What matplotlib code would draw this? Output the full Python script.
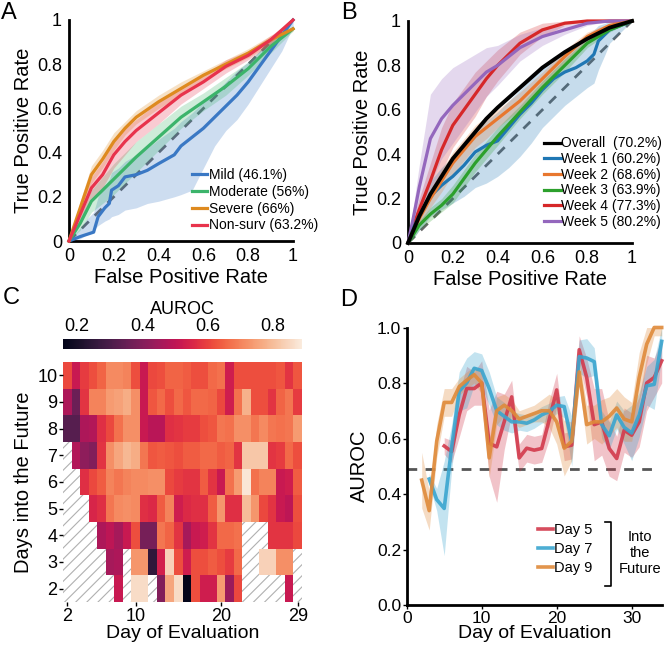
import numpy as np
import matplotlib
matplotlib.use('Agg')
from matplotlib import pyplot as plt
from matplotlib.patches import Rectangle
import seaborn as sns

plt.rcParams['font.family'] = ['Liberation Sans', 'DejaVu Sans']
plt.rcParams['hatch.linewidth'] = 0.8
plt.rcParams['hatch.color'] = '#b0b0b0'

# ---------------- panel A: ROC by severity ----------------
fpr_a = [0, 0.05, 0.1, 0.15, 0.2, 0.25, 0.3, 0.4, 0.5, 0.6, 0.7, 0.8, 0.9, 1.0]
moderate_tpr = [0, 0.08, 0.18, 0.23, 0.28, 0.33, 0.38, 0.47, 0.56, 0.63, 0.70, 0.78, 0.88, 0.96]
moderate_err = [0, 0.03, 0.05, 0.06, 0.07, 0.07, 0.07, 0.06, 0.05, 0.04, 0.04, 0.03, 0.03, 0.01]
severe_tpr = [0, 0.15, 0.30, 0.37, 0.45, 0.51, 0.56, 0.63, 0.69, 0.75, 0.80, 0.85, 0.91, 0.96]
severe_err = [0, 0.03, 0.04, 0.04, 0.04, 0.03, 0.03, 0.03, 0.03, 0.02, 0.02, 0.02, 0.02, 0.01]
nonsurv_tpr = [0, 0.12, 0.24, 0.30, 0.39, 0.45, 0.50, 0.58, 0.66, 0.72, 0.79, 0.84, 0.91, 1.0]
nonsurv_err = [0, 0.03, 0.05, 0.06, 0.06, 0.06, 0.05, 0.05, 0.04, 0.03, 0.03, 0.02, 0.02, 0]

mild_fpr = [0, 0.05, 0.08, 0.11, 0.13, 0.16, 0.18, 0.19, 0.22, 0.25, 0.3, 0.35, 0.4, 0.47,
            0.5, 0.55, 0.6, 0.65, 0.7, 0.75, 0.8, 0.85, 0.9, 0.95, 1.0]
mild_tpr = [0, 0.02, 0.03, 0.04, 0.11, 0.15, 0.17, 0.23, 0.25, 0.29, 0.30, 0.32, 0.35, 0.39,
            0.43, 0.47, 0.51, 0.56, 0.61, 0.66, 0.72, 0.79, 0.86, 0.93, 1.0]
mild_lo = [0, 0.01, 0.03, 0.05, 0.07, 0.09, 0.10, 0.11, 0.12, 0.14, 0.15, 0.17, 0.18, 0.20,
           0.21, 0.23, 0.33, 0.43, 0.50, 0.55, 0.62, 0.70, 0.78, 0.86, 0.97]
mild_hi = [0, 0.06, 0.10, 0.13, 0.20, 0.25, 0.28, 0.31, 0.33, 0.36, 0.39, 0.42, 0.46, 0.51,
           0.54, 0.58, 0.63, 0.67, 0.72, 0.77, 0.81, 0.86, 0.92, 0.96, 1.0]

# ---------------- panel B: ROC by week ----------------
fpr_b = [0, 0.025, 0.05, 0.1, 0.15, 0.2, 0.25, 0.3, 0.35, 0.4, 0.5, 0.6, 0.7, 0.8, 0.9, 1.0]
overall_tpr = [0, 0.06, 0.12, 0.22, 0.30, 0.38, 0.44, 0.50, 0.56, 0.61, 0.70, 0.79, 0.86, 0.92, 0.97, 1.0]
week2_tpr = [0, 0.06, 0.11, 0.20, 0.28, 0.36, 0.42, 0.48, 0.52, 0.56, 0.64, 0.74, 0.84, 0.93, 0.98, 1.0]
week2_err = [0, 0.02, 0.03, 0.04, 0.05, 0.05, 0.05, 0.05, 0.05, 0.04, 0.04, 0.03, 0.03, 0.02, 0.01, 0]
week3_tpr = [0, 0.04, 0.08, 0.13, 0.17, 0.22, 0.29, 0.36, 0.42, 0.48, 0.59, 0.70, 0.80, 0.90, 0.96, 1.0]
week3_err = [0, 0.02, 0.02, 0.03, 0.03, 0.04, 0.04, 0.04, 0.04, 0.04, 0.03, 0.03, 0.03, 0.02, 0.01, 0]
week4_tpr = [0, 0.08, 0.15, 0.28, 0.42, 0.53, 0.60, 0.67, 0.74, 0.80, 0.90, 0.96, 0.99, 1.0, 1.0, 1.0]
week4_err = [0, 0.03, 0.05, 0.08, 0.10, 0.10, 0.10, 0.10, 0.08, 0.07, 0.05, 0.03, 0.01, 0, 0, 0]
week5_tpr = [0, 0.12, 0.25, 0.47, 0.56, 0.62, 0.67, 0.72, 0.77, 0.80, 0.88, 0.93, 0.96, 0.99, 1.0, 1.0]
week5_err = [0, 0.05, 0.10, 0.20, 0.18, 0.17, 0.15, 0.13, 0.11, 0.09, 0.06, 0.04, 0.02, 0.01, 0, 0]

week1_fpr = [0, 0.03, 0.06, 0.1, 0.15, 0.2, 0.25, 0.3, 0.35, 0.4, 0.45, 0.5, 0.55, 0.6, 0.65,
             0.7, 0.75, 0.8, 0.83, 0.85, 0.88, 0.9, 0.95, 1.0]
week1_tpr = [0, 0.08, 0.14, 0.21, 0.26, 0.30, 0.35, 0.41, 0.44, 0.46, 0.52, 0.58, 0.63, 0.69, 0.74,
             0.77, 0.79, 0.82, 0.85, 0.91, 0.94, 0.96, 0.98, 1.0]
week1_lo = [0, 0.03, 0.07, 0.12, 0.15, 0.18, 0.21, 0.25, 0.27, 0.30, 0.34, 0.39, 0.45, 0.52, 0.57,
            0.62, 0.66, 0.70, 0.72, 0.78, 0.85, 0.90, 0.95, 1.0]
week1_hi = [0, 0.12, 0.20, 0.28, 0.34, 0.39, 0.45, 0.50, 0.55, 0.59, 0.64, 0.69, 0.74, 0.80, 0.84,
            0.86, 0.90, 0.94, 0.96, 0.98, 0.99, 1.0, 1.0, 1.0]

# ---------------- panel C: AUROC heatmap ----------------
nan = np.nan
eval_days = list(range(2, 30))
future_days = list(range(2, 11))
# rows: days into the future 2 .. 10, columns: day of evaluation 2 .. 29
auroc_grid = [
    [nan, nan, nan, nan, nan, nan, 0.52, nan, 0.86, 0.86, nan, 0.40, 0.76, 0.86, 0.16, 0.62, 0.53, 0.53, 0.74, 0.44, 0.61, nan, nan, nan, nan, nan, 0.52, nan],
    [nan, nan, nan, nan, nan, 0.46, 0.47, nan, 0.73, 0.73, 0.25, 0.54, 0.84, 0.62, 0.53, 0.62, 0.62, 0.64, 0.62, 0.59, 0.66, nan, nan, 0.84, 0.84, 0.72, 0.72, nan],
    [nan, nan, nan, nan, 0.47, 0.50, 0.46, 0.52, 0.62, 0.38, 0.38, 0.68, 0.65, 0.58, 0.46, 0.52, 0.53, 0.58, 0.66, 0.66, 0.67, nan, nan, nan, 0.58, 0.58, 0.58, 0.61],
    [nan, nan, nan, 0.55, 0.57, 0.68, 0.71, 0.72, 0.71, 0.57, 0.56, 0.64, 0.70, 0.53, 0.56, 0.57, 0.57, 0.64, 0.73, 0.57, 0.57, 0.80, 0.73, 0.61, 0.58, 0.52, 0.50, 0.62],
    [nan, nan, 0.57, 0.61, 0.64, 0.70, 0.68, 0.70, 0.71, 0.71, 0.72, 0.72, 0.61, 0.59, 0.58, 0.58, 0.64, 0.58, 0.52, 0.67, 0.74, 0.88, 0.67, 0.70, 0.70, 0.52, 0.53, 0.64],
    [nan, 0.48, 0.42, 0.40, 0.58, 0.72, 0.76, 0.79, 0.77, 0.68, 0.63, 0.64, 0.63, 0.62, 0.64, 0.64, 0.66, 0.66, 0.64, 0.65, 0.58, 0.82, 0.82, 0.82, 0.58, 0.59, 0.66, 0.62],
    [0.32, 0.32, 0.47, 0.48, 0.57, 0.61, 0.67, 0.72, 0.72, 0.52, 0.49, 0.49, 0.57, 0.58, 0.59, 0.59, 0.62, 0.63, 0.68, 0.67, 0.72, 0.72, 0.68, 0.71, 0.68, 0.67, 0.68, 0.74],
    [0.47, 0.36, 0.58, 0.70, 0.70, 0.74, 0.75, 0.77, 0.72, 0.52, 0.63, 0.66, 0.62, 0.66, 0.63, 0.66, 0.66, 0.65, 0.61, 0.53, 0.67, 0.78, 0.62, 0.62, 0.58, 0.65, 0.68, 0.59],
    [0.61, 0.52, 0.59, 0.62, 0.65, 0.71, 0.71, 0.70, 0.62, 0.52, 0.61, 0.62, 0.65, 0.65, 0.64, 0.62, 0.62, 0.66, 0.67, 0.53, 0.62, 0.62, 0.62, 0.62, 0.62, 0.63, 0.58, 0.63],
]

# ---------------- panel D: AUROC over time ----------------
day5_x = list(range(5, 35))
day5_auroc = [0.573, 0.553, 0.685, 0.78, 0.78, 0.80, 0.583, 0.57, 0.66, 0.75, 0.53, 0.565, 0.558,
              0.564, 0.667, 0.775, 0.57, 0.576, 0.92, 0.82, 0.65, 0.66, 0.564, 0.528, 0.63, 0.612,
              0.66, 0.80, 0.82, 0.88]
day5_err = [0.03, 0.04, 0.08, 0.08, 0.06, 0.08, 0.12, 0.20, 0.10, 0.06, 0.05, 0.05, 0.05, 0.05,
            0.07, 0.06, 0.05, 0.05, 0.05, 0.07, 0.13, 0.12, 0.10, 0.08, 0.08, 0.08, 0.09, 0.10,
            0.07, 0.08]
day7_x = list(range(3, 35))
day7_auroc = [0.454, 0.38, 0.348, 0.57, 0.77, 0.80, 0.853, 0.845, 0.78, 0.70, 0.68, 0.66, 0.66,
              0.655, 0.667, 0.685, 0.697, 0.72, 0.715, 0.59, 0.895, 0.89, 0.877, 0.65, 0.61,
              0.685, 0.64, 0.62, 0.685, 0.79, 0.795, 0.95]
day7_err = [0.02, 0.04, 0.17, 0.08, 0.07, 0.09, 0.06, 0.06, 0.06, 0.05, 0.05, 0.04, 0.03, 0.03,
            0.03, 0.03, 0.03, 0.03, 0.04, 0.09, 0.06, 0.07, 0.05, 0.05, 0.05, 0.05, 0.06, 0.10,
            0.08, 0.07, 0.09, 0.06]
day9_x = list(range(2, 35))
day9_auroc = [0.45, 0.34, 0.59, 0.73, 0.73, 0.787, 0.81, 0.83, 0.80, 0.53, 0.70, 0.72, 0.70, 0.67,
              0.68, 0.69, 0.70, 0.70, 0.66, 0.565, 0.59, 0.84, 0.65, 0.66, 0.66, 0.68, 0.71, 0.67,
              0.66, 0.82, 0.94, 1.0, 1.0]
day9_err = [0.10, 0.07, 0.06, 0.05, 0.05, 0.03, 0.03, 0.03, 0.04, 0.07, 0.05, 0.04, 0.04, 0.03,
            0.03, 0.03, 0.04, 0.06, 0.08, 0.10, 0.07, 0.05, 0.07, 0.06, 0.08, 0.07, 0.07, 0.08,
            0.07, 0.09, 0.07, 0.03, 0.03]
chance_level = 0.49

W, H = 667, 647
fig = plt.figure(figsize=(W / 100, H / 100), dpi=100)


def px_axes(left, top, right, bottom):
    return fig.add_axes([left / W, 1 - bottom / H, (right - left) / W, (bottom - top) / H])


def style_roc(ax):
    for s in ['top', 'right']:
        ax.spines[s].set_visible(False)
    for s in ['left', 'bottom']:
        ax.spines[s].set_linewidth(2)
    ax.set_xlim(0, 1)
    ax.set_ylim(0, 1)
    ticks = [0, 0.2, 0.4, 0.6, 0.8, 1]
    labels = ['0', '0.2', '0.4', '0.6', '0.8', '1']
    ax.set_xticks(ticks, labels)
    ax.set_yticks(ticks, labels)
    ax.tick_params(length=0, labelsize=13, pad=5)
    ax.set_xlabel('False Positive Rate', fontsize=14.5, labelpad=2)
    ax.set_ylabel('True Positive Rate', fontsize=14.5, labelpad=3)
    ax.plot([0, 1], [0, 1], color='#666666', lw=2, dashes=(3.5, 3), zorder=1)


def roc_line(ax, x, y, lo, hi, color, label):
    ax.fill_between(x, lo, hi, color=color, alpha=0.25, lw=0, zorder=2)
    ax.plot(x, y, color=color, lw=2.3, label=label, zorder=3, clip_on=False)


def band(y, err):
    y = np.array(y)
    err = np.array(err)
    return np.clip(y - err, 0, 1), np.clip(y + err, 0, 1)


# ---- A ----
ax_a = px_axes(69, 20, 293, 241)
style_roc(ax_a)
roc_line(ax_a, mild_fpr, mild_tpr, mild_lo, mild_hi, '#3a78c4', 'Mild (46.1%)')
roc_line(ax_a, fpr_a, moderate_tpr, *band(moderate_tpr, moderate_err), '#3cb46b', 'Moderate (56%)')
roc_line(ax_a, fpr_a, severe_tpr, *band(severe_tpr, severe_err), '#de8a1f', 'Severe (66%)')
roc_line(ax_a, fpr_a, nonsurv_tpr, *band(nonsurv_tpr, nonsurv_err), '#e8334c', 'Non-surv (63.2%)')
ax_a.legend(loc='upper left', bbox_to_anchor=(0.55, 0.33), frameon=False, fontsize=10,
            handlelength=1.1, handletextpad=0.1, labelspacing=0.2, borderpad=0, borderaxespad=0)

# ---- B ----
ax_b = px_axes(408, 21, 632, 243)
style_roc(ax_b)
roc_line(ax_b, fpr_b, week4_tpr, *band(week4_tpr, week4_err), '#d62728', None)
roc_line(ax_b, fpr_b, week5_tpr, *band(week5_tpr, week5_err), '#9467bd', None)
roc_line(ax_b, week1_fpr, week1_tpr, week1_lo, week1_hi, '#1f77b4', None)
roc_line(ax_b, fpr_b, week2_tpr, *band(week2_tpr, week2_err), '#e8772e', None)
roc_line(ax_b, fpr_b, week3_tpr, *band(week3_tpr, week3_err), '#2ca02c', None)
ax_b.plot(fpr_b, overall_tpr, color='black', lw=2.8, zorder=4, clip_on=False)
handles = [plt.Line2D([], [], color=c, lw=2.3) for c in
           ['black', '#1f77b4', '#e8772e', '#2ca02c', '#d62728', '#9467bd']]
labels_b = ['Overall  (70.2%)', 'Week 1 (60.2%)', 'Week 2 (68.6%)', 'Week 3 (63.9%)',
            'Week 4 (77.3%)', 'Week 5 (80.2%)']
ax_b.legend(handles, labels_b, loc='upper left', bbox_to_anchor=(0.607, 0.48), frameon=False,
            fontsize=10, handlelength=1.2, handletextpad=0.05, labelspacing=0.12, borderpad=0,
            borderaxespad=0)

# ---- C ----
ax_c = px_axes(63, 362, 302, 602)
cax = px_axes(63, 339, 302, 349)
cmap = sns.color_palette('rocket', as_cmap=True)
grid = np.ma.masked_invalid(np.array(auroc_grid))
x_edges = np.arange(eval_days[0] - 0.5, eval_days[-1] + 1)
y_edges = np.arange(future_days[0] - 0.5, future_days[-1] + 1)
ax_c.add_patch(Rectangle((x_edges[0], y_edges[0]), x_edges[-1] - x_edges[0],
                         y_edges[-1] - y_edges[0], facecolor='white', edgecolor='#b0b0b0',
                         hatch='///', lw=0, zorder=0))
mesh = ax_c.pcolormesh(x_edges, y_edges, grid, cmap=cmap, vmin=0.157, vmax=0.889, zorder=1)
ax_c.set_xlim(x_edges[0], x_edges[-1])
ax_c.set_ylim(y_edges[0], y_edges[-1])
for s in ax_c.spines.values():
    s.set_visible(False)
ax_c.set_xticks([2, 10, 20, 29])
ax_c.set_yticks(future_days)
ax_c.tick_params(labelsize=13, length=3, width=1, pad=1)
ax_c.set_xlabel('Day of Evaluation', fontsize=14, labelpad=0)
ax_c.set_ylabel('Days into the Future', fontsize=14.5, labelpad=3)

cb = fig.colorbar(mesh, cax=cax, orientation='horizontal')
cb.outline.set_visible(False)
cax.xaxis.set_ticks_position('top')
cax.xaxis.set_label_position('top')
cb.set_ticks([0.2, 0.4, 0.6, 0.8], labels=['0.2', '0.4', '0.6', '0.8'])
cax.tick_params(length=0, labelsize=13, pad=3)
cax.set_xlabel('AUROC', fontsize=13, labelpad=2.5)

# ---- D ----
ax_d = px_axes(406.7, 327.5, 661.7, 605)
for s in ['top', 'right']:
    ax_d.spines[s].set_visible(False)
for s in ['left', 'bottom']:
    ax_d.spines[s].set_linewidth(2)
ax_d.set_xlim(0, 34)
ax_d.set_ylim(0, 1)
ax_d.set_xticks([0, 10, 20, 30])
ax_d.set_yticks([0, 0.2, 0.4, 0.6, 0.8, 1.0], ['0.0', '0.2', '0.4', '0.6', '0.8', '1.0'])
ax_d.tick_params(labelsize=12.5, length=3, width=1, pad=1)
ax_d.set_xlabel('Day of Evaluation', fontsize=14, labelpad=-0.5)
ax_d.set_ylabel('AUROC', fontsize=14.5, labelpad=6)
ax_d.hlines(chance_level, 0, 33, color='#555555', lw=2, linestyles=(0, (3.5, 3)), zorder=1)

for xs, ys, err, color, label in [(day5_x, day5_auroc, day5_err, '#d23a4c', 'Day 5'),
                                  (day7_x, day7_auroc, day7_err, '#3aa5cf', 'Day 7'),
                                  (day9_x, day9_auroc, day9_err, '#df8a3a', 'Day 9')]:
    lo, hi = band(ys, err)
    ax_d.fill_between(xs, lo, hi, color=color, alpha=0.3, lw=0, zorder=2)
    ax_d.plot(xs, ys, color=color, lw=2.6, alpha=0.9, label=label, zorder=3, clip_on=False)
ax_d.legend(loc='upper left', bbox_to_anchor=(0.515, 0.295), frameon=False, fontsize=10.5,
            handlelength=1.0, handletextpad=0.1, labelspacing=0.35, borderpad=0, borderaxespad=0)
# bracket next to the legend
ax_d.plot([0.776, 0.803, 0.803, 0.776], [0.30, 0.30, 0.068, 0.068], color='black', lw=1.2,
          transform=ax_d.transAxes, clip_on=False)
ax_d.text(0.915, 0.187, 'Into\nthe\nFuture', transform=ax_d.transAxes, ha='center', va='center',
          fontsize=10.5, linespacing=1.15)

# panel letters
for letter, x, y in [('A', 9, 13), ('B', 349, 13), ('C', 11, 298), ('D', 349, 300)]:
    fig.text(x / W, 1 - y / H, letter, fontsize=17, ha='center', va='center')

fig.savefig('out.png', dpi=100)
